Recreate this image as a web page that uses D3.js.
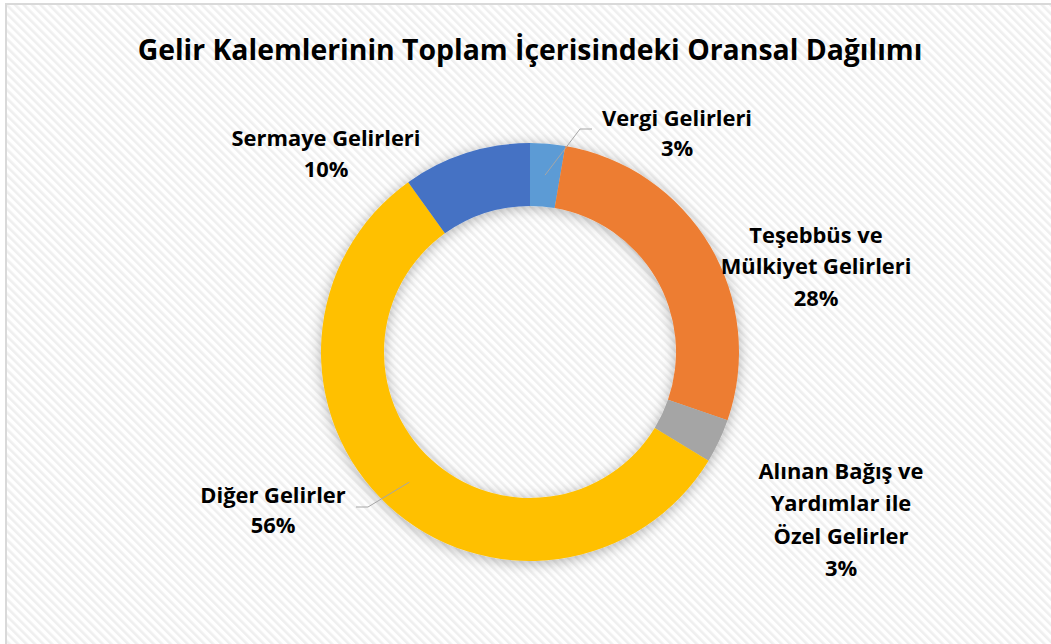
<!DOCTYPE html>
<html>
<head>
<meta charset="utf-8">
<script src="https://cdn.jsdelivr.net/npm/d3@7"></script>
<style>
  html, body { margin: 0; padding: 0; background: #ffffff; }
  svg { display: block; }
  text { font-family: "Open Sans", Lato, sans-serif; font-weight: 700; fill: #000; }
</style>
</head>
<body>
<svg id="chart" width="1051" height="644"></svg>
<script>
// ---- data ----
const categories = [
  "Vergi Gelirleri",
  "Teşebbüs ve Mülkiyet Gelirleri",
  "Alınan Bağış ve Yardımlar ile Özel Gelirler",
  "Diğer Gelirler",
  "Sermaye Gelirleri"
];
const values = [2.7, 27.6, 3.4, 56.4, 9.9];
const labelLines = [
  ["Vergi Gelirleri"],
  ["Teşebbüs ve", "Mülkiyet Gelirleri"],
  ["Alınan Bağış ve", "Yardımlar ile", "Özel Gelirler"],
  ["Diğer Gelirler"],
  ["Sermaye Gelirleri"]
];
const colors = ["#5B9BD5", "#ED7D31", "#A5A5A5", "#FFC000", "#4472C4"];
const title = "Gelir Kalemlerinin Toplam İçerisindeki Oransal Dağılımı";

// ---- layout ----
const W = 1051, H = 644;
const cx = 530, cy = 352, rOuter = 209, rInner = 146;
const labelCenters = [[677, 117], [816, 234], [841, 470], [273, 494], [326, 137]];
const lineH = [30, 31.5, 32.5, 30.5, 31];
const leaderPts = { 0: [[580, 129], [592, 129]], 3: [[368, 507], [356, 507]] };
const titleWidth = 785, labelRefWidth = 189; // width of "Sermaye Gelirleri"

const svg = d3.select("#chart");
const defs = svg.append("defs");
const pat = defs.append("pattern")
  .attr("id", "hatch").attr("patternUnits", "userSpaceOnUse")
  .attr("width", 6).attr("height", 6)
  .attr("patternTransform", "rotate(-45)");
pat.append("rect").attr("width", 6).attr("height", 6).attr("fill", "#ffffff");
pat.append("rect").attr("x", 0).attr("width", 2.6).attr("height", 6).attr("fill", "#efefef");

const f = defs.append("filter").attr("id", "shadow")
  .attr("x", "-20%").attr("y", "-20%").attr("width", "140%").attr("height", "140%");
f.append("feDropShadow").attr("dx", 0).attr("dy", 2).attr("stdDeviation", 7)
  .attr("flood-color", "#000").attr("flood-opacity", 0.3);

svg.append("rect").attr("x", 0).attr("y", 0).attr("width", W).attr("height", H).attr("fill", "#fff");
svg.append("rect").attr("x", 6).attr("y", 4).attr("width", W + 10).attr("height", H + 10)
  .attr("fill", "url(#hatch)").attr("stroke", "#d9d9d9").attr("stroke-width", 2);

function fitSize(str, target) {
  const t = svg.append("text").style("font-size", "100px").text(str);
  const w = t.node().getComputedTextLength();
  t.remove();
  return 100 * target / w;
}
const titleSize = fitSize(title, titleWidth);
const labelSize = fitSize("Sermaye Gelirleri", labelRefWidth);

// title
svg.append("text").attr("x", cx).attr("y", 49)
  .attr("text-anchor", "middle").attr("dominant-baseline", "central")
  .style("font-size", titleSize + "px").text(title);

const pie = d3.pie().sort(null).value(d => d)(values);
const arc = d3.arc().innerRadius(rInner).outerRadius(rOuter);

const g = svg.append("g").attr("transform", `translate(${cx},${cy})`);
g.append("g").attr("filter", "url(#shadow)")
  .selectAll("path").data(pie).join("path")
  .attr("d", arc).attr("fill", (d, i) => colors[i]);

// leader lines
Object.keys(leaderPts).forEach(k => {
  const i = +k;
  const c = arc.centroid(pie[i]);
  const pts = [[cx + c[0], cy + c[1]], ...leaderPts[i]];
  svg.append("path").attr("d", d3.line()(pts))
    .attr("fill", "none").attr("stroke", "#a6a6a6").attr("stroke-width", 1);
});

// labels
pie.forEach((d, i) => {
  const lines = labelLines[i].concat([Math.round(values[i]) + "%"]);
  const [lx, ly] = labelCenters[i];
  const t = svg.append("text").attr("text-anchor", "middle").style("font-size", labelSize + "px");
  lines.forEach((ln, j) => {
    t.append("tspan").attr("x", lx).attr("y", ly + j * lineH[i])
      .attr("dominant-baseline", "central").text(ln);
  });
});
</script>
</body>
</html>
